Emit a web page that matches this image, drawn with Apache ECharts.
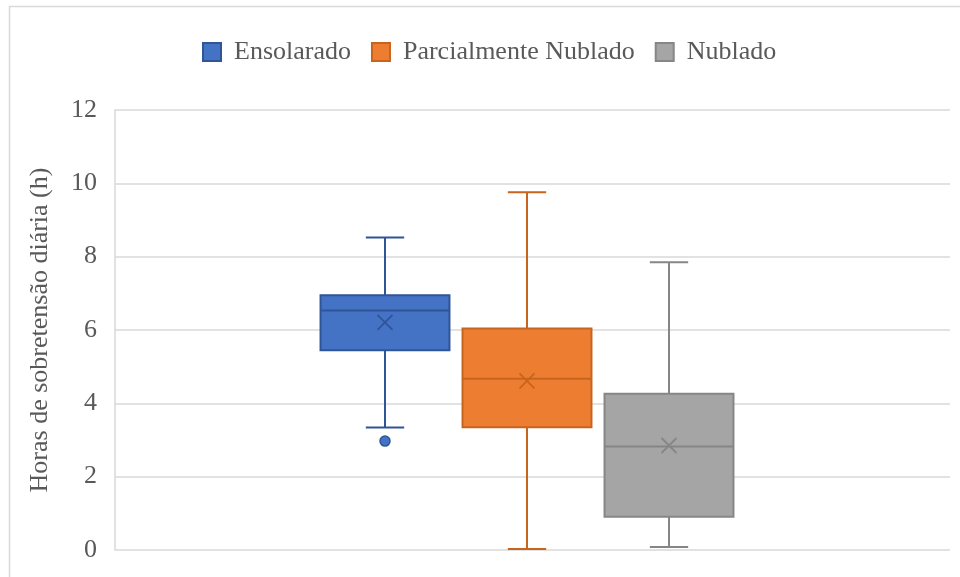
<!DOCTYPE html>
<html>
<head>
<meta charset="utf-8">
<script src="https://cdn.jsdelivr.net/npm/echarts@6/dist/echarts.min.js"></script>
<style>html,body{margin:0;padding:0;background:#fff}#c{width:960px;height:577px}</style>
</head>
<body>
<div id="c"></div>
<script>
// ---- data ----
const seriesNames = ['Ensolarado', 'Parcialmente Nublado', 'Nublado'];
// [min, Q1, median, Q3, max]
const ensolarado = [3.34, 5.45, 6.53, 6.95, 8.52];
const parcialmenteNublado = [0.03, 3.35, 4.67, 6.04, 9.76];
const nublado = [0.08, 0.91, 2.82, 4.26, 7.85];
const means = [6.21, 4.61, 2.85];
const ensolaradoOutliers = [2.97];
const yTicks = [0, 2, 4, 6, 8, 10, 12];

const fills = ['#4472C4', '#ED7D31', '#A5A5A5'];
const borders = ['#2F5597', '#C8641E', '#868686'];
const FONT = '"Liberation Serif", "Times New Roman", serif';
const TXT = '#595959';

const stats = [ensolarado, parcialmenteNublado, nublado];

function renderBox(params, api) {
  const x = api.value(0);
  const pMin = api.coord([x, api.value(1)]);
  const pQ1 = api.coord([x, api.value(2)]);
  const pMed = api.coord([x, api.value(3)]);
  const pQ3 = api.coord([x, api.value(4)]);
  const pMax = api.coord([x, api.value(5)]);
  const pMean = api.coord([x, api.value(6)]);
  const band = api.size([1, 0])[0];
  const bw = band * 0.908;
  const cw = band * 0.27;
  const cx = pMed[0];
  const idx = params.seriesIndex;
  const stroke = borders[idx];
  const lw = 2;
  const xs = 7.5;
  return {
    type: 'group',
    children: [
      { type: 'line', shape: { x1: cx, y1: pMax[1], x2: cx, y2: pQ3[1] }, style: { stroke: stroke, lineWidth: lw } },
      { type: 'line', shape: { x1: cx, y1: pQ1[1], x2: cx, y2: pMin[1] }, style: { stroke: stroke, lineWidth: lw } },
      { type: 'line', shape: { x1: cx - cw / 2, y1: pMax[1], x2: cx + cw / 2, y2: pMax[1] }, style: { stroke: stroke, lineWidth: lw } },
      { type: 'line', shape: { x1: cx - cw / 2, y1: pMin[1], x2: cx + cw / 2, y2: pMin[1] }, style: { stroke: stroke, lineWidth: lw } },
      { type: 'rect', shape: { x: cx - bw / 2, y: pQ3[1], width: bw, height: pQ1[1] - pQ3[1] }, style: { fill: fills[idx], stroke: stroke, lineWidth: lw } },
      { type: 'line', shape: { x1: cx - bw / 2, y1: pMed[1], x2: cx + bw / 2, y2: pMed[1] }, style: { stroke: stroke, lineWidth: lw } },
      { type: 'line', shape: { x1: pMean[0] - xs, y1: pMean[1] - xs, x2: pMean[0] + xs, y2: pMean[1] + xs }, style: { stroke: stroke, lineWidth: 1.8 } },
      { type: 'line', shape: { x1: pMean[0] - xs, y1: pMean[1] + xs, x2: pMean[0] + xs, y2: pMean[1] - xs }, style: { stroke: stroke, lineWidth: 1.8 } }
    ]
  };
}

const boxSeries = seriesNames.map((name, i) => ({
  name: name,
  type: 'custom',
  xAxisIndex: 1,
  yAxisIndex: 1,
  renderItem: renderBox,
  itemStyle: { color: fills[i], borderColor: borders[i], borderWidth: 1.5 },
  encode: { x: 0, y: [1, 2, 3, 4, 5] },
  data: [[i].concat(stats[i]).concat([means[i]])],
  z: 3
}));

const option = {
  animation: false,
  backgroundColor: '#fff',
  graphic: [{
    type: 'rect', left: 7, top: 4, silent: true, z: -10,
    shape: { x: 0, y: 0, width: 1200, height: 1000 },
    style: { fill: 'none', stroke: '#D9D9D9', lineWidth: 1.5 }
  }],
  legend: {
    data: seriesNames,
    left: 202,
    top: 39,
    padding: 0,
    icon: 'rect',
    itemWidth: 18,
    itemHeight: 18,
    itemGap: 20,
    textStyle: { fontFamily: FONT, fontSize: 26, color: TXT, padding: [0, 0, 0, 8], lineHeight: 26 }
  },
  grid: [
    { left: 115, right: 10, top: 110, bottom: 27 },
    { left: 314, width: 426, top: 110, bottom: 27 }
  ],
  xAxis: [
    { gridIndex: 0, type: 'category', data: [''], show: false },
    { gridIndex: 1, type: 'category', data: seriesNames, show: false }
  ],
  yAxis: [
    {
      gridIndex: 0, type: 'value', min: yTicks[0], max: yTicks[yTicks.length - 1], interval: 2,
      name: 'Horas de sobretensão diária (h)',
      nameLocation: 'middle', nameGap: 62, nameRotate: 90,
      nameTextStyle: { fontFamily: FONT, fontSize: 26, color: TXT },
      axisLine: { show: true, lineStyle: { color: '#D9D9D9', width: 1.5 } },
      axisTick: { show: false },
      axisLabel: { fontFamily: FONT, fontSize: 26, color: TXT, margin: 18 },
      splitLine: { show: true, lineStyle: { color: '#D9D9D9', width: 1.5 } }
    },
    { gridIndex: 1, type: 'value', min: 0, max: 12, show: false, splitLine: { show: false } }
  ],
  series: boxSeries.concat([{
    name: 'outliers',
    type: 'scatter',
    xAxisIndex: 1,
    yAxisIndex: 1,
    symbol: 'circle',
    symbolSize: 10,
    itemStyle: { color: fills[0], borderColor: borders[0], borderWidth: 1.5, opacity: 1 },
    data: ensolaradoOutliers.map(v => [0, v]),
    z: 4
  }])
};

const chart = echarts.init(document.getElementById('c'), null, { renderer: 'canvas' });
chart.setOption(option);
</script>
</body>
</html>
